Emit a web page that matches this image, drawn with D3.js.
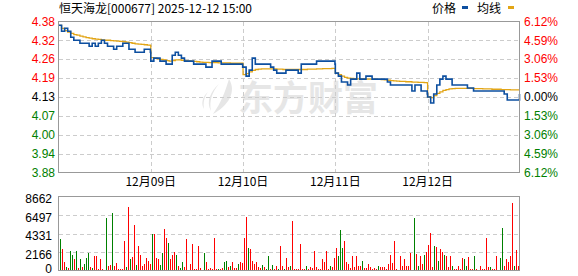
<!DOCTYPE html>
<meta charset="utf-8">
<script src="https://d3js.org/d3.v7.min.js"></script>
<style>
  body { margin: 0; background: #fff; }
  svg text { font-family: 'Liberation Sans', Arial, sans-serif; }
</style>
<body>
<svg width="578" height="276"></svg>
<script>
// ---- data ----
var stockName = "恒天海龙[000677]";
var timeLabel = "2025-12-12 15:00";
var dayLabels = ["12月09日", "12月10日", "12月11日", "12月12日"]; // shown at the start of days 2..5
var prevClose = 4.13;
var maxPct = 6.12;
var volMax = 8662;

// price, sampled every 8 minutes (31 per day)
var price1 = [4.37,4.35,4.36,4.35,4.33,4.32,4.32,4.31,4.31,4.31,4.30,4.31,4.30,4.31,4.32,4.31,4.30,4.30,4.29,4.30,4.30,4.31,4.31,4.29,4.29,4.28,4.28,4.28,4.29,4.29,4.28];
var price2 = [4.25,4.26,4.26,4.25,4.25,4.24,4.24,4.27,4.28,4.27,4.26,4.25,4.25,4.25,4.24,4.24,4.24,4.24,4.23,4.23,4.25,4.25,4.25,4.24,4.24,4.24,4.24,4.24,4.24,4.24,4.23];
var price3 = [4.23,4.20,4.22,4.26,4.24,4.24,4.24,4.24,4.24,4.23,4.22,4.21,4.21,4.21,4.22,4.22,4.22,4.22,4.21,4.24,4.24,4.24,4.24,4.24,4.25,4.25,4.25,4.25,4.25,4.25,4.24];
var price4 = [4.21,4.20,4.18,4.18,4.17,4.19,4.19,4.21,4.19,4.19,4.20,4.20,4.19,4.19,4.19,4.19,4.19,4.18,4.17,4.17,4.17,4.17,4.17,4.17,4.17,4.15,4.17,4.17,4.15,4.15,4.14];
var price5 = [4.13,4.11,4.14,4.17,4.19,4.20,4.19,4.19,4.17,4.17,4.17,4.17,4.17,4.16,4.16,4.15,4.15,4.15,4.15,4.15,4.15,4.15,4.15,4.15,4.15,4.14,4.12,4.12,4.12,4.12,4.14];

// average price line, same sampling
var avg1 = [4.370,4.360,4.352,4.347,4.343,4.339,4.337,4.334,4.331,4.329,4.327,4.325,4.324,4.323,4.321,4.320,4.320,4.319,4.318,4.317,4.316,4.315,4.314,4.312,4.310,4.308,4.307,4.306,4.305,4.304,4.303];
var avg2 = [4.262,4.260,4.258,4.256,4.254,4.252,4.250,4.252,4.254,4.254,4.253,4.252,4.251,4.250,4.249,4.248,4.247,4.246,4.246,4.245,4.245,4.245,4.244,4.244,4.244,4.244,4.243,4.243,4.243,4.243,4.243];
var avg3 = [4.205,4.208,4.214,4.219,4.222,4.223,4.224,4.224,4.224,4.224,4.224,4.223,4.223,4.222,4.222,4.222,4.222,4.222,4.222,4.222,4.222,4.223,4.223,4.223,4.224,4.224,4.225,4.225,4.225,4.226,4.226];
var avg4 = [4.210,4.205,4.200,4.196,4.193,4.192,4.191,4.191,4.191,4.191,4.190,4.190,4.190,4.189,4.189,4.188,4.187,4.186,4.185,4.184,4.183,4.182,4.182,4.181,4.181,4.180,4.180,4.179,4.179,4.178,4.177];
var avg5 = [4.130,4.128,4.135,4.142,4.147,4.152,4.155,4.157,4.158,4.159,4.159,4.159,4.159,4.159,4.159,4.158,4.158,4.158,4.157,4.157,4.157,4.156,4.156,4.156,4.155,4.155,4.155,4.154,4.154,4.154,4.154];

// volume, 46 slots per day; r = up (red), g = down (green)
var vol1 = [3630,2540,975,390,300,2340,1830,1290,2340,280,1290,390,780,1440,1990,390,270,1755,1755,200,1365,150,100,6126,585,663,6750,585,900,200,150,200,3395,390,7490,1365,1560,5270,660,2810,1830,510,780,1440,1170,780];
var vol2 = [4215,4215,1520,1365,660,1990,4800,3860,3240,1290,1830,2220,1830,510,270,1050,390,3630,100,780,3120,200,200,2810,270,100,2070,1050,200,270,150,3860,150,200,150,270,1050,1170,390,585,1050,270,350,780,975,900];
var vol3 = [3860,6240,2690,2460,1170,780,975,390,270,660,390,200,1640,150,660,150,585,200,2810,470,200,1440,390,510,5740,200,200,150,3160,150,150,470,150,390,270,2340,390,150,150,1290,975,2340,150,470,390,1520];
var vol4 = [2610,1640,4720,2650,3395,1050,780,270,1755,390,1755,585,585,1130,270,270,780,390,150,270,150,585,390,390,390,150,780,1830,900,3395,150,100,1755,470,1365,585,510,2070,100,6126,1950,510,1680,780,1830,2150];
var vol5 = [2930,4370,390,2850,2730,1170,2460,2150,1830,1640,390,1680,585,150,150,470,150,1440,1290,470,1560,150,150,1680,150,100,585,200,150,3780,390,390,150,150,1640,100,1440,4950,585,1290,975,1640,7920,510,2420,470];
var dir1 = "grrgrggrgr" + "grgggrgrrr" + "rrggrrgrrr" + "rrrgrgrrgr" + "rrrrrr";
var dir2 = "grrrggrrgr" + "rrgrggrrrr" + "rrrrrrgrrr" + "rrrgrrggrg" + "rrrgrr";
var dir3 = "rrgrrrrrrg" + "rggrgrrgrr" + "grrgrrrrrr" + "rgrrrrrrrr" + "rrrgrr";
var dir4 = "rgggrrrrrr" + "rrrgrrrrrr" + "rgrrrrrrrr" + "rrrrrrrrrg" + "rgrrgr";
var dir5 = "rrrgrgrrgr" + "rrgrrrrrgg" + "rrrgrrrrrr" + "rgrrrrggrr" + "rrrgrr";

var prices = [price1, price2, price3, price4, price5];
var avgs = [avg1, avg2, avg3, avg4, avg5];
var vols = [vol1, vol2, vol3, vol4, vol5];
var dirs = [dir1, dir2, dir3, dir4, dir5];

var RED = "#ff0000", GREEN = "#008000", BLUE = "#0d4fa0", ORANGE = "#e2a516";

// ---- layout ----
var svg = d3.select("svg");
var plotL = 58.5, plotR = 519.5, plotT = 21.5, plotB = 172.5;
var volT = 196.5, volB = 270.5;
var perDay = 241, nDays = prices.length;

var x = d3.scaleLinear().domain([0, perDay * nDays - 1]).range([plotL, plotR]);
var y = d3.scaleLinear()
    .domain([prevClose * (1 - maxPct / 100), prevClose * (1 + maxPct / 100)])
    .range([plotB, plotT]);
var yv = d3.scaleLinear().domain([0, volMax]).range([volB, volT]);

function toPoints(arr) {
  var pts = [];
  arr.forEach(function(day, d) {
    day.forEach(function(v, k) {
      pts.push({ t: d * perDay + k * (perDay - 1) / (day.length - 1), v: v });
    });
  });
  return pts;
}

// title + legend
svg.append("text").attr("x", 59).attr("y", 13)
  .style("font-family", "'Noto Sans CJK SC', sans-serif").style("font-size", "12px").attr("fill", "#000")
  .text(stockName + " " + timeLabel);

svg.append("text").attr("x", 432).attr("y", 13)
  .style("font-family", "'Noto Sans CJK SC', sans-serif").style("font-size", "12px").text("价格");
svg.append("rect").attr("x", 462).attr("y", 6).attr("width", 6).attr("height", 3).attr("fill", BLUE);
svg.append("text").attr("x", 477).attr("y", 13)
  .style("font-family", "'Noto Sans CJK SC', sans-serif").style("font-size", "12px").text("均线");
svg.append("rect").attr("x", 508).attr("y", 6).attr("width", 6).attr("height", 3).attr("fill", ORANGE);

// watermark
var wm = svg.append("g").attr("fill", "#e6e6e6");
wm.append("path").attr("d", "M229,79 C237,92 228,106 213,114 C221,103 225,92 229,79 Z");
wm.append("path").attr("d", "M219,84 C210,92 206,102 211,111 C209,101 212,92 219,84 Z");
wm.append("path").attr("d", "M208,92 C202,97 201,104 204,109 C203,103 204,97 208,92 Z");
wm.append("text").attr("x", 238).attr("y", 111)
  .style("font-family", "'Noto Sans CJK SC', sans-serif").style("font-size", "35px").style("font-weight", "bold")
  .text("东方财富");

// grid
var steps = d3.range(-4, 5);
var grid = svg.append("g").attr("stroke", "#cccccc").attr("stroke-dasharray", "4,3").attr("shape-rendering", "crispEdges");
grid.selectAll("line.h").data(steps.filter(function(k) { return Math.abs(k) < 4; }))
  .enter().append("line")
  .attr("x1", plotL).attr("x2", plotR)
  .attr("y1", function(k) { return Math.round(y(prevClose * (1 + k * maxPct / 400))) + 0.5; })
  .attr("y2", function(k) { return Math.round(y(prevClose * (1 + k * maxPct / 400))) + 0.5; });
grid.selectAll("line.v").data(d3.range(1, nDays))
  .enter().append("line")
  .attr("y1", plotT).attr("y2", plotB)
  .attr("x1", function(d) { return Math.round(x(d * perDay)) + 0.5; })
  .attr("x2", function(d) { return Math.round(x(d * perDay)) + 0.5; });
grid.selectAll("line.vv").data([0.25, 0.5, 0.75])
  .enter().append("line")
  .attr("x1", plotL).attr("x2", plotR)
  .attr("y1", function(f) { return Math.round(yv(volMax * f)) + 0.5; })
  .attr("y2", function(f) { return Math.round(yv(volMax * f)) + 0.5; });

// lines
var line = d3.line().curve(d3.curveStepAfter)
  .x(function(p) { return x(p.t); }).y(function(p) { return y(p.v); });
svg.append("path").datum(toPoints(avgs)).attr("d", line)
  .attr("fill", "none").attr("stroke", ORANGE).attr("stroke-width", 1.3);
svg.append("path").datum(toPoints(prices)).attr("d", line)
  .attr("fill", "none").attr("stroke", BLUE).attr("stroke-width", 1.6);

// volume bars (snapped to even pixel columns)
var bars = [];
vols.forEach(function(day, d) {
  day.forEach(function(v, j) {
    bars.push({ t: d * perDay + (j + 0.5) * perDay / day.length, v: v, c: dirs[d].charAt(j) });
  });
});
svg.append("g").attr("shape-rendering", "crispEdges").selectAll("rect").data(bars)
  .enter().append("rect")
  .attr("x", function(b) { return 2 * Math.round(x(b.t) / 2); })
  .attr("width", 1)
  .attr("y", function(b) { return Math.round(yv(b.v)); })
  .attr("height", function(b) { return Math.round(volB - 0.5) - Math.round(yv(b.v)); })
  .attr("fill", function(b) { return b.c === "g" ? GREEN : RED; });

// frames
svg.append("rect").attr("x", plotL).attr("y", plotT).attr("width", plotR - plotL).attr("height", plotB - plotT)
  .attr("fill", "none").attr("stroke", "#999").attr("shape-rendering", "crispEdges");
svg.append("rect").attr("x", plotL).attr("y", volT).attr("width", plotR - plotL).attr("height", volB - volT)
  .attr("fill", "none").attr("stroke", "#999").attr("shape-rendering", "crispEdges");

// price axis labels
function tickColor(k) { return k > 0 ? RED : (k < 0 ? GREEN : "#000"); }
svg.append("g").selectAll("text").data(steps).enter().append("text")
  .attr("x", 55).attr("text-anchor", "end").attr("dy", "0.35em").style("font-size", "12px")
  .attr("y", function(k) { return y(prevClose * (1 + k * maxPct / 400)); })
  .attr("fill", tickColor)
  .text(function(k) { return (prevClose * (1 + k * maxPct / 400)).toFixed(2); });
svg.append("g").selectAll("text").data(steps).enter().append("text")
  .attr("x", 524).attr("dy", "0.35em").style("font-size", "12px")
  .attr("y", function(k) { return y(prevClose * (1 + k * maxPct / 400)); })
  .attr("fill", tickColor)
  .text(function(k) { return (Math.abs(k) * maxPct / 4).toFixed(2) + "%"; });

// day labels
svg.append("g").selectAll("text").data(dayLabels).enter().append("text")
  .attr("x", function(d, i) { return x((i + 1) * perDay); })
  .attr("y", 186).attr("text-anchor", "middle")
  .style("font-family", "'Noto Sans CJK SC', sans-serif").style("font-size", "12px")
  .text(function(d) { return d; });

// volume axis labels
svg.append("g").selectAll("text").data([1, 0.75, 0.5, 0.25, 0]).enter().append("text")
  .attr("x", 52).attr("text-anchor", "end").attr("dy", "0.35em").style("font-size", "12px")
  .attr("y", function(f) { return Math.min(yv(volMax * f) + 2.5, 269); })
  .text(function(f) { return Math.round(volMax * f); });
</script>
</body>
